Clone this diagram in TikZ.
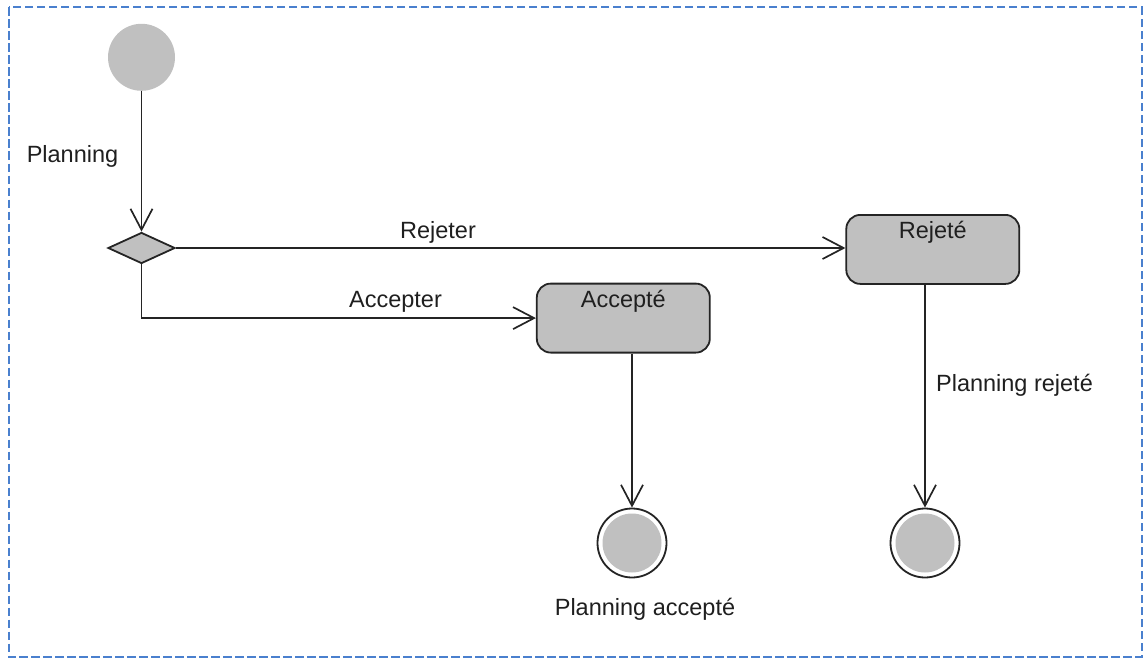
\documentclass[tikz,border=0pt]{standalone}
\usepackage{fontspec}
\setmainfont{Liberation Sans}
\usetikzlibrary{arrows.meta,shapes.geometric}
\definecolor{statefill}{RGB}{192,192,192}
\definecolor{edgecol}{RGB}{36,36,36}
\definecolor{framecol}{RGB}{74,128,206}
\begin{document}
\begin{tikzpicture}[x=1pt,y=-1pt,
  every node/.style={font=\fontsize{23.5}{28}\selectfont, text=black!88},
  conn/.style={draw=edgecol, line width=1.7pt, -{Straight Barb[length=21pt,width=22pt,line width=1.7pt]}},
  initstate/.style={circle, fill=statefill, minimum size=67pt, inner sep=0pt},
  endstate/.style={circle, draw=edgecol, line width=1.8pt, fill=white, minimum size=69pt, inner sep=0pt,
    path picture={\fill[statefill] (path picture bounding box.center) circle (29.5pt);}},
  decision/.style={diamond, draw=edgecol, line width=1.8pt, fill=statefill, minimum width=67pt, minimum height=31pt, inner sep=0pt},
  statebox/.style={rectangle, rounded corners=14pt, draw=edgecol, line width=1.8pt, fill=statefill,
    minimum width=173pt, inner sep=0pt, text height=24pt, text depth=45pt, text width=173pt, align=center},
  tlabel/.style={inner sep=0pt, anchor=base}
]
\useasboundingbox (0,0) rectangle (1143,658);
% dashed frame
\draw[framecol, line width=2pt, dash pattern=on 8.5pt off 3.5pt] (8.5,7.5) rectangle (1141.5,656.8);

% states
\node[initstate] (start) at (141.5,57.3) {};
\node[decision] (dec) at (141.5,248) {};
\node[statebox, anchor=north] (acc) at (623.3,282.7) {Accepté};
\node[statebox, anchor=north] (rej) at (932.8,214) {Rejeté};
\node[endstate] (end1) at (632,543) {};
\node[endstate] (end2) at (925,543) {};

% transitions
\draw[conn] (start) -- (dec.north);
\draw[conn] (dec.east) -- (rej.west |- dec.east);
\draw[conn] (dec.south) |- (acc.west);
\draw[conn] (end1 |- acc.south) -- (end1.north);
\draw[conn] (end2 |- rej.south) -- (end2.north);

% transition labels
\node[tlabel] (lplan) at (72.5,162) {Planning};
\node[tlabel] (lrejeter) at (438,238) {Rejeter};
\node[tlabel] (laccepter) at (395.5,307) {Accepter};
\node[tlabel] (lprej) at (1014.5,391.5) {Planning rejeté};
\node[tlabel] (lpacc) at (645,615) {Planning accepté};
\end{tikzpicture}
\end{document}
